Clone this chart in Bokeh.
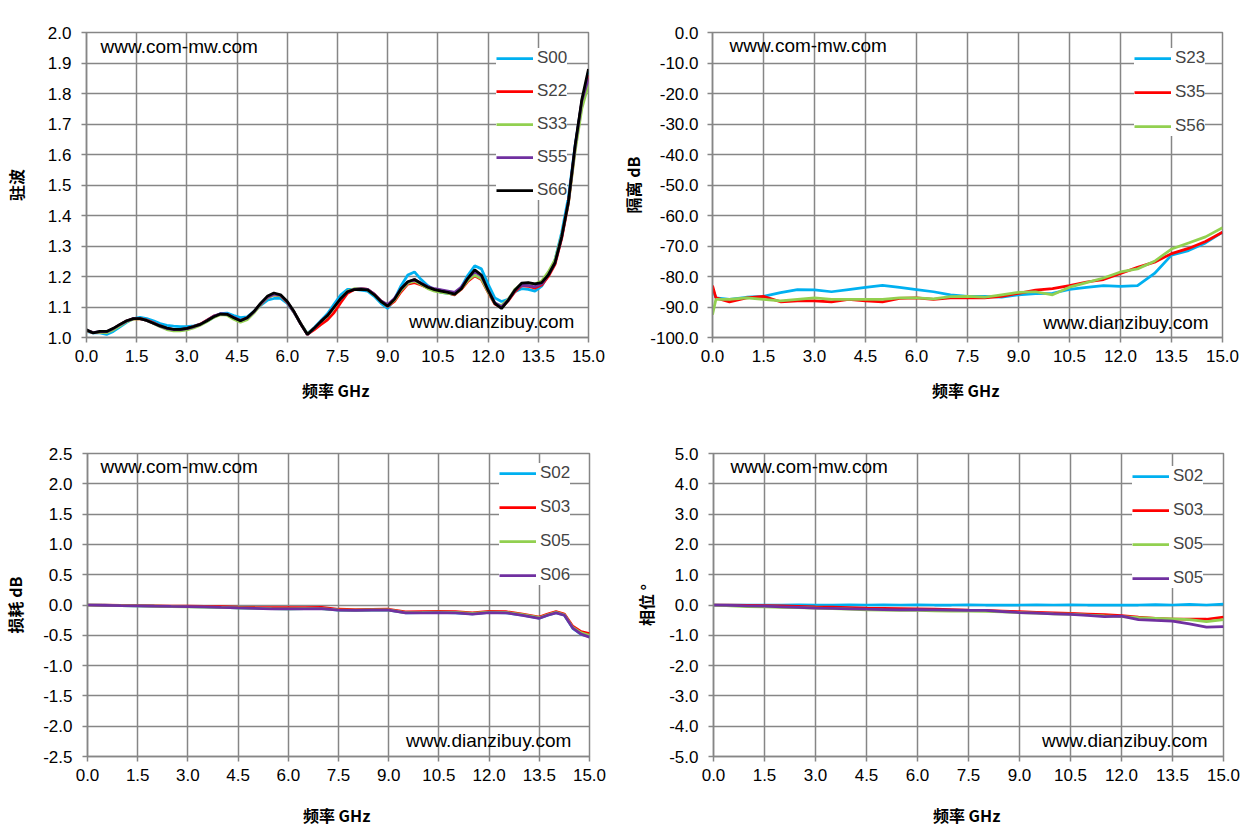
from bokeh.plotting import figure
from bokeh.models import FixedTicker, NumeralTickFormatter, Range1d, Label, Legend, LegendItem
from bokeh.layouts import column, row
from bokeh.embed import file_html
from bokeh.resources import INLINE

# ---------------- data ----------------
VSWR_FREQ = [0.0, 0.2, 0.4, 0.6, 0.8, 1.0, 1.2, 1.4, 1.6, 1.8,
             2.0, 2.2, 2.4, 2.6, 2.8, 3.0, 3.2, 3.4, 3.6, 3.8,
             4.0, 4.2, 4.4, 4.6, 4.8, 5.0, 5.2, 5.4, 5.6, 5.8,
             6.0, 6.2, 6.4, 6.6, 6.8, 7.0, 7.2, 7.4, 7.6, 7.8,
             8.0, 8.2, 8.4, 8.6, 8.8, 9.0, 9.2, 9.4, 9.6, 9.8,
             10.0, 10.2, 10.4, 10.6, 10.8, 11.0, 11.2, 11.4, 11.6, 11.8,
             12.0, 12.2, 12.4, 12.6, 12.8, 13.0, 13.2, 13.4, 13.6, 13.8,
             14.0, 14.2, 14.4, 14.6, 14.8, 15.0]

S00 = [1.020, 1.015, 1.015, 1.010, 1.020, 1.035, 1.050, 1.062, 1.066, 1.062,
       1.055, 1.046, 1.040, 1.037, 1.036, 1.036, 1.038, 1.043, 1.053, 1.066,
       1.078, 1.080, 1.072, 1.065, 1.068, 1.085, 1.105, 1.122, 1.128, 1.128,
       1.112, 1.082, 1.045, 1.013, 1.032, 1.055, 1.078, 1.110, 1.140, 1.158,
       1.158, 1.155, 1.152, 1.135, 1.112, 1.095, 1.125, 1.170, 1.205, 1.215,
       1.190, 1.170, 1.155, 1.148, 1.145, 1.140, 1.165, 1.205, 1.235, 1.225,
       1.175, 1.130, 1.118, 1.125, 1.150, 1.160, 1.158, 1.152, 1.168, 1.205,
       1.255, 1.345, 1.460, 1.630, 1.770, 1.870]
S22 = [1.022, 1.016, 1.018, 1.018, 1.028, 1.042, 1.054, 1.061, 1.062, 1.057,
       1.048, 1.038, 1.030, 1.026, 1.026, 1.029, 1.036, 1.044, 1.057, 1.070,
       1.076, 1.075, 1.065, 1.056, 1.064, 1.083, 1.108, 1.130, 1.140, 1.136,
       1.115, 1.083, 1.045, 1.010, 1.025, 1.042, 1.058, 1.082, 1.115, 1.145,
       1.157, 1.160, 1.158, 1.142, 1.120, 1.102, 1.118, 1.150, 1.175, 1.180,
       1.172, 1.162, 1.156, 1.150, 1.146, 1.140, 1.158, 1.185, 1.202, 1.190,
       1.148, 1.110, 1.098, 1.120, 1.150, 1.170, 1.168, 1.162, 1.172, 1.200,
       1.240, 1.325, 1.440, 1.620, 1.770, 1.860]
S33 = [1.022, 1.016, 1.018, 1.016, 1.025, 1.038, 1.052, 1.060, 1.062, 1.056,
       1.046, 1.035, 1.026, 1.022, 1.022, 1.025, 1.031, 1.040, 1.052, 1.066,
       1.075, 1.073, 1.060, 1.050, 1.058, 1.080, 1.108, 1.130, 1.140, 1.136,
       1.116, 1.084, 1.046, 1.012, 1.030, 1.052, 1.070, 1.098, 1.128, 1.152,
       1.160, 1.160, 1.156, 1.140, 1.118, 1.104, 1.122, 1.155, 1.178, 1.185,
       1.174, 1.160, 1.152, 1.148, 1.145, 1.142, 1.160, 1.188, 1.205, 1.192,
       1.150, 1.112, 1.105, 1.125, 1.158, 1.175, 1.178, 1.175, 1.185, 1.215,
       1.255, 1.335, 1.440, 1.610, 1.750, 1.830]
S55 = [1.024, 1.016, 1.019, 1.019, 1.029, 1.042, 1.054, 1.062, 1.062, 1.056,
       1.047, 1.037, 1.030, 1.026, 1.026, 1.029, 1.035, 1.043, 1.056, 1.070,
       1.078, 1.077, 1.066, 1.056, 1.064, 1.084, 1.110, 1.132, 1.142, 1.138,
       1.116, 1.084, 1.045, 1.010, 1.030, 1.052, 1.072, 1.100, 1.128, 1.150,
       1.158, 1.160, 1.158, 1.142, 1.120, 1.108, 1.128, 1.160, 1.182, 1.190,
       1.178, 1.167, 1.160, 1.156, 1.152, 1.148, 1.165, 1.195, 1.215, 1.202,
       1.155, 1.114, 1.100, 1.122, 1.155, 1.172, 1.170, 1.166, 1.176, 1.205,
       1.245, 1.330, 1.445, 1.625, 1.775, 1.850]
S66 = [1.025, 1.015, 1.020, 1.020, 1.030, 1.043, 1.055, 1.062, 1.062, 1.056,
       1.047, 1.038, 1.031, 1.027, 1.027, 1.030, 1.036, 1.043, 1.055, 1.068,
       1.077, 1.076, 1.065, 1.055, 1.065, 1.085, 1.112, 1.135, 1.146, 1.140,
       1.118, 1.085, 1.045, 1.010, 1.030, 1.052, 1.072, 1.100, 1.128, 1.150,
       1.157, 1.158, 1.156, 1.140, 1.118, 1.103, 1.125, 1.160, 1.183, 1.190,
       1.177, 1.165, 1.157, 1.152, 1.148, 1.142, 1.160, 1.195, 1.222, 1.205,
       1.155, 1.112, 1.095, 1.122, 1.155, 1.178, 1.180, 1.176, 1.180, 1.205,
       1.245, 1.330, 1.445, 1.630, 1.780, 1.880]

ISO_FREQ = [0.0, 0.1, 0.5, 1.0, 1.5, 2.0, 2.5, 3.0, 3.5, 4.0, 4.5, 5.0, 5.5, 6.0, 6.5, 7.0,
            7.5, 8.0, 8.5, 9.0, 9.5, 10.0, 10.5, 11.0, 11.5, 12.0, 12.5, 13.0, 13.5, 14.0, 14.5, 15.0]
S23 = [-84.0, -87.0, -87.5, -86.8, -86.5, -85.3, -84.3, -84.4, -85.0, -84.3, -83.6, -82.9, -83.6, -84.3,
       -85.0, -86.0, -86.5, -86.5, -86.8, -86.0, -85.6, -85.5, -84.2, -83.6, -83.0, -83.2, -83.0,
       -79.0, -73.0, -71.5, -69.0, -65.5]
S35 = [-83.0, -87.0, -88.3, -87.0, -86.5, -88.3, -88.0, -88.0, -88.3, -87.5, -88.0, -88.3, -87.2, -87.0,
       -87.5, -87.0, -87.0, -87.0, -86.5, -85.5, -84.5, -84.0, -83.0, -81.8, -81.0, -79.0, -77.0,
       -75.3, -72.5, -70.8, -68.5, -65.5]
S56 = [-92.5, -87.5, -87.5, -87.0, -87.5, -88.0, -87.5, -87.0, -87.5, -87.5, -87.5, -87.5, -87.0, -87.0,
       -87.3, -86.6, -86.5, -86.8, -86.0, -85.2, -85.0, -86.0, -83.5, -82.0, -80.5, -78.5, -77.5,
       -75.0, -71.0, -69.0, -67.0, -64.0]

LOSS_FREQ = [0.0, 0.5, 1.0, 1.5, 2.0, 2.5, 3.0, 3.5, 4.0, 4.5, 5.0, 5.5, 6.0, 6.5, 7.0, 7.5, 8.0,
             8.5, 9.0, 9.5, 10.0, 10.5, 11.0, 11.5, 12.0, 12.5, 13.0, 13.5, 13.75, 14.0, 14.25,
             14.5, 14.75, 15.0]
L02 = [0.0, -0.004, -0.010, -0.014, -0.018, -0.022, -0.026, -0.030, -0.038, -0.046, -0.053, -0.060,
       -0.064, -0.061, -0.059, -0.083, -0.088, -0.084, -0.083, -0.128, -0.127, -0.122, -0.128, -0.148,
       -0.123, -0.128, -0.168, -0.218, -0.168, -0.128, -0.168, -0.385, -0.485, -0.520]
L03 = [0.0, -0.004, -0.008, -0.010, -0.014, -0.018, -0.020, -0.022, -0.028, -0.035, -0.040, -0.042,
       -0.045, -0.042, -0.040, -0.070, -0.075, -0.072, -0.070, -0.115, -0.110, -0.105, -0.110, -0.130,
       -0.105, -0.110, -0.150, -0.200, -0.150, -0.110, -0.150, -0.350, -0.440, -0.470]
L05 = [0.0, -0.005, -0.012, -0.016, -0.020, -0.025, -0.030, -0.034, -0.040, -0.046, -0.052, -0.058,
       -0.062, -0.060, -0.058, -0.080, -0.085, -0.082, -0.080, -0.125, -0.122, -0.118, -0.122, -0.140,
       -0.118, -0.122, -0.160, -0.210, -0.160, -0.120, -0.160, -0.370, -0.460, -0.500]
L06 = [0.0, -0.005, -0.010, -0.013, -0.018, -0.022, -0.025, -0.030, -0.040, -0.048, -0.055, -0.062,
       -0.065, -0.062, -0.060, -0.085, -0.090, -0.085, -0.085, -0.130, -0.130, -0.125, -0.130, -0.150,
       -0.125, -0.130, -0.170, -0.220, -0.170, -0.130, -0.170, -0.380, -0.480, -0.530]

PH_FREQ = [0.0, 0.5, 1.0, 1.5, 2.0, 2.5, 3.0, 3.5, 4.0, 4.5, 5.0, 5.5, 6.0, 6.5, 7.0, 7.5,
           8.0, 8.5, 9.0, 9.5, 10.0, 10.5, 11.0, 11.5, 12.0, 12.5, 13.0, 13.5, 14.0, 14.5, 15.0]
P02 = [0.0, 0.0, -0.005, 0.0, 0.0, 0.005, 0.0, 0.0, 0.005, 0.0, 0.005, 0.0, 0.005, 0.0, 0.0, 0.005,
       0.0, 0.0, 0.0, 0.005, 0.0, 0.005, 0.0, 0.0, 0.0, 0.0, 0.01, 0.0, 0.02, 0.0, 0.03]
P03 = [0.0, -0.005, -0.01, -0.02, -0.03, -0.045, -0.06, -0.07, -0.085, -0.10, -0.11, -0.12, -0.13,
       -0.14, -0.155, -0.17, -0.18, -0.20, -0.22, -0.24, -0.26, -0.28, -0.30, -0.32, -0.35, -0.40,
       -0.44, -0.47, -0.47, -0.47, -0.40]
P05A = [0.0, -0.03, -0.05, -0.06, -0.075, -0.09, -0.10, -0.12, -0.14, -0.16, -0.17, -0.175, -0.18,
        -0.19, -0.20, -0.20, -0.21, -0.23, -0.25, -0.27, -0.29, -0.30, -0.33, -0.36, -0.38, -0.42,
        -0.44, -0.46, -0.48, -0.55, -0.48]
P05B = [0.0, -0.01, -0.025, -0.04, -0.06, -0.08, -0.10, -0.11, -0.125, -0.14, -0.15, -0.16, -0.15,
        -0.16, -0.17, -0.18, -0.18, -0.215, -0.25, -0.27, -0.29, -0.31, -0.34, -0.38, -0.37, -0.48,
        -0.51, -0.53, -0.62, -0.73, -0.71]

X_TICKS = [0.0, 1.5, 3.0, 4.5, 6.0, 7.5, 9.0, 10.5, 12.0, 13.5, 15.0]

# ---------------- styles ----------------
CYAN, RED, GREEN, PURPLE, BLACK = "#00B0F0", "#FF0000", "#92D050", "#7030A0", "#000000"
GRID = "#868686"
FONT = "Liberation Sans"
CJK = "Noto Sans CJK SC"
LW = 2.75


def make_fig(fw, fh, bl, br, bt, bb, yr, yticks, ylabel, ystand, xstand):
    p = figure(frame_width=fw, frame_height=fh, min_border_left=bl, min_border_right=br,
               min_border_top=bt, min_border_bottom=bb,
               x_range=Range1d(0, 15), y_range=Range1d(*yr),
               output_backend="svg", toolbar_location=None)
    p.background_fill_color = "white"
    p.border_fill_color = "white"
    p.outline_line_color = GRID
    p.outline_line_width = 1.5
    for ax in (p.xaxis[0], p.yaxis[0]):
        ax.axis_line_color = GRID
        ax.axis_line_width = 1.5
        ax.major_tick_line_color = GRID
        ax.major_tick_line_width = 1.5
        ax.major_tick_out = 5
        ax.major_tick_in = 0
        ax.minor_tick_line_color = None
        ax.major_label_text_font = FONT
        ax.major_label_text_font_size = "17px"
        ax.major_label_text_color = "#000000"
        ax.axis_label_text_font = CJK
        ax.axis_label_text_font_style = "bold"
        ax.axis_label_text_font_size = "16px"
        ax.axis_label_text_color = "#000000"
        ax.formatter = NumeralTickFormatter(format="0.0")
    p.xaxis.ticker = FixedTicker(ticks=X_TICKS)
    p.yaxis.ticker = FixedTicker(ticks=yticks)
    p.xaxis.axis_label = "频率  GHz"
    p.yaxis.axis_label = ylabel
    p.xaxis.major_label_standoff = 7
    p.yaxis.major_label_standoff = 10
    p.yaxis.axis_label_standoff = ystand
    p.xaxis.axis_label_standoff = xstand
    p.xgrid.ticker = FixedTicker(ticks=X_TICKS)
    p.ygrid.ticker = FixedTicker(ticks=yticks)
    for g in (p.xgrid[0], p.ygrid[0]):
        g.grid_line_color = GRID
        g.grid_line_width = 1.5
    return p


def add_lines(p, x, series, loc, spacing):
    items = []
    for name, ys, color in series:
        r = p.line(x, ys, line_color=color, line_width=LW)
        items.append(LegendItem(label=name, renderers=[r]))
    leg = Legend(items=items, location=loc, orientation="vertical",
                 glyph_width=37, glyph_height=20, label_height=20, label_standoff=4,
                 spacing=spacing, padding=10, margin=0,
                 label_text_font=FONT, label_text_font_size="17px",
                 border_line_color=None, background_fill_color="white",
                 background_fill_alpha=1.0)
    p.add_layout(leg, "center")
    return leg


def add_marks(p, x1, y1, x2, y2):
    p.add_layout(Label(x=x1, y=y1, text="www.com-mw.com", text_font=FONT, text_font_size="19px",
                       text_baseline="middle", text_align="left", text_color="#000000"))
    p.add_layout(Label(x=x2, y=y2, text="www.dianzibuy.com", text_font=FONT, text_font_size="19px",
                       text_baseline="middle", text_align="right", text_color="#000000"))


# ---- top-left: VSWR ----
p1 = make_fig(502, 305, 80, 30, 32, 78, (1.0, 2.0),
              [1.0, 1.1, 1.2, 1.3, 1.4, 1.5, 1.6, 1.7, 1.8, 1.9, 2.0], "驻波", 17, 13)
add_lines(p1, VSWR_FREQ, [("S00", S00, CYAN), ("S22", S22, RED), ("S33", S33, GREEN),
                          ("S55", S55, PURPLE), ("S66", S66, BLACK)], (410, 137), 13)
add_marks(p1, 0.42, 1.954, 14.58, 1.052)

# ---- top-right: isolation ----
p2 = make_fig(510, 305, 94, 21, 32, 78, (-100.0, 0.0),
              [0, -10, -20, -30, -40, -50, -60, -70, -80, -90, -100], "隔离 dB", 2, 13)
p2.yaxis.major_label_standoff = 9
add_lines(p2, ISO_FREQ, [("S23", S23, CYAN), ("S35", S35, RED), ("S56", S56, GREEN)], (422, 201), 14)
add_marks(p2, 0.5, -4.3, 14.59, -95.1)

# ---- bottom-left: insertion loss ----
p3 = make_fig(502, 303, 80, 30, 38, 74, (-2.5, 2.5),
              [2.5, 2.0, 1.5, 1.0, 0.5, 0.0, -0.5, -1.0, -1.5, -2.0, -2.5], "损耗 dB", 13, 19)
add_lines(p3, LOSS_FREQ, [("S02", L02, CYAN), ("S03", L03, RED), ("S05", L05, GREEN),
                          ("S06", L06, PURPLE)], (412, 171), 14)
add_marks(p3, 0.39, 2.285, 14.46, -2.236)

# ---- bottom-right: phase ----
p4 = make_fig(510, 303, 94, 21, 38, 74, (-5.0, 5.0),
              [5, 4, 3, 2, 1, 0, -1, -2, -3, -4, -5], "相位 °", 8, 19)
add_lines(p4, PH_FREQ, [("S02", P02, CYAN), ("S03", P03, RED), ("S05", P05A, GREEN),
                        ("S05", P05B, PURPLE)], (419, 168), 14)
add_marks(p4, 0.5, 4.57, 14.53, -4.47)

layout = column(row(p1, p2, spacing=0), row(p3, p4, spacing=0), spacing=0)

open("out.html", "w").write(file_html(layout, INLINE))
